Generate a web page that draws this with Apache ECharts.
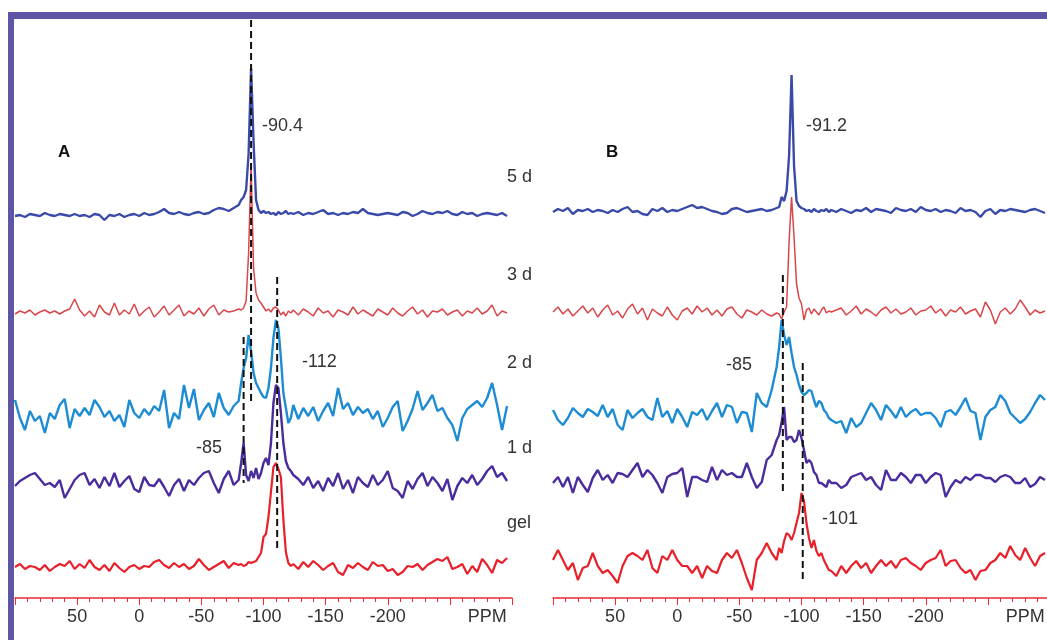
<!DOCTYPE html>
<html>
<head>
<meta charset="utf-8">
<script src="https://cdn.jsdelivr.net/npm/echarts@6/dist/echarts.min.js"></script>
<style>
  html, body { margin: 0; padding: 0; background: #fff; }
  #chart { width: 1047px; height: 640px; }
</style>
</head>
<body>
<div id="chart"></div>
<script>
// chemical shift grid (ppm), finer around the peaks
const ppm = [100,96,92,88,84,80,76,72,68,64,60,56,52,48,44,40,36,32,28,24,20,16,12,8,4,0,-4,-8,-12,-16,-20,-24,-28,-32,-36,-40,-44,-48,-52,-56,-60,-64,-68,-72,-76,-80,
  -82,-84,-86,-88,-90,-92,-94,-96,-98,-100,-102,-104,-106,-108,-110,-112,-114,-116,-118,-120,-122,
  -124,-128,-132,-136,-140,-144,-148,-152,-156,-160,-164,-168,-172,-176,-180,-184,-188,-192,-196,-200,-204,-208,-212,-216,-220,-224,-228,-232,-236,-240,-244,-248,-252,-256,-260,-264,-268,-272,-276,-280,-284,-288,-292,-296];

// panel A intensities (relative to each trace's baseline)
const a5d = [-2,-1,-3,0,-1,-2,1,-1,-2,0, -1,-2,0,-2,-1,-3,0,-1,-6,-1, -2,0,-3,-1,0,-2,1,-1,0,2, 5,1,0,2,0,-1,1,2,0,1, 4,6,5,3,6,9,
  14,17,24,60,146,72,14,4,1,3, 1,2,0,1,-1,2,0,1,3,0,1,
  0,2,-1,1,0,2,4,0,1,-1, 1,0,2,1,5,1,0,-1,0,1, 0,-1,2,1,-2,0,3,1,0,2, 1,3,0,-1,2,0,1,-2,0,1, 0,-1,1,-2];
const a3d = [-1,2,0,3,-2,1,3,0,2,-1, 2,4,14,3,-3,2,-4,8,1,-2, 10,-2,3,-1,9,-3,2,6,-4,1, 7,-2,3,8,-3,2,-1,5,-3,4, 8,-2,3,1,2,4,
  3,5,12,60,148,45,20,13,10,6, 2,4,1,5,6,3,-2,1,-3,2,0,
  3,-2,4,1,-3,5,0,2,-4,3, 1,-2,6,-1,3,0,-3,4,1,-2, 5,0,-3,2,6,-1,3,-4,2,1, 4,-2,1,3,-3,2,0,5,-1,2, 8,-3,2,0];
const a2d = [13,-5,-17,2,-8,-3,-20,0,-6,8, 14,-15,4,-3,5,-2,13,6,-4,2, -8,-2,-14,13,0,-5,4,-2,7,2, 23,-15,0,-6,28,5,24,-7,3,10, -4,20,5,-2,7,12,
  30,45,55,78,62,40,30,25,20,16, 15,25,45,75,93,85,55,20,5,-10,-5,
  8,-6,5,-3,6,-8,2,10,-3,25, 4,10,-2,6,0,4,-6,2,-14,-5, 6,12,-18,-8,4,22,3,10,18,2, 5,-5,-12,-28,-5,4,8,12,6,15, 30,8,-17,7];
const a1d = [-3,2,5,8,10,4,-2,0,-4,3, -15,-6,3,8,10,-2,4,-5,6,-3, 10,-4,2,7,-6,-9,6,-2,-3,4, -4,-13,-2,4,-8,3,-2,5,10,12, 0,-10,4,12,-2,3,
  20,40,8,2,12,5,15,4,10,20, 25,18,40,80,98,95,70,40,22,15,12,
  8,4,-2,6,-5,2,-8,5,-3,10, -6,3,-10,6,0,-4,8,-2,3,12, -5,-8,-15,2,-6,4,10,-3,6,0, -8,4,-17,-3,5,0,8,-2,4,12, 17,6,10,2];
const aGel = [0,3,-2,1,0,-3,2,-4,0,3, 1,6,-2,3,-1,7,0,-3,2,-4, 4,-1,-5,0,2,-2,1,0,5,7, 2,-1,4,0,3,-2,1,8,2,-3, 0,3,6,-1,4,2,
  3,1,2,5,4,5,6,10,14,30, 33,50,75,100,104,98,90,47,15,4,1,
  3,-2,5,0,6,2,-3,1,4,-5, -8,2,-1,4,0,-3,5,1,2,-4, -2,-8,-5,1,0,3,-3,2,5,8, 6,10,-2,0,3,-7,1,-5,8,2, -6,7,4,9];

// panel B intensities
const b5d = [-1,2,0,3,-3,1,0,2,-1,1, 0,-2,1,-1,2,4,-1,0,-3,-4, 2,0,3,-1,1,0,2,4,6,3, 4,2,0,-1,-3,-2,2,3,1,-1, 0,1,2,0,1,3,
  4,14,10,20,55,136,45,10,5,3, 2,0,1,-1,2,0,-1,1,0,2,-1,
  1,-1,2,0,-2,1,0,3,-1,2, 1,0,-2,3,1,0,2,-1,4,1, 0,2,-1,1,0,-2,3,0,1,-1, -6,0,2,-3,1,0,2,1,0,-1, 1,2,0,-2];
const b3d = [0,5,-2,3,-4,1,6,-1,4,-5, 2,7,-3,1,-6,3,8,-2,4,-8, 3,-1,-4,5,-3,-8,1,4,-2,6, 0,4,-3,2,-4,3,5,-2,-6,2, 0,-3,2,-2,-4,-1,
  -2,-7,0,5,70,115,75,28,14,8, -8,2,4,-2,3,0,-3,2,5,-1,1,
  0,2,4,-3,1,6,-2,3,0,-4, 2,5,-1,3,-2,0,4,-3,1,2, 6,-1,3,-4,2,0,5,-2,1,3, -5,10,2,-12,0,4,-2,3,12,5, -3,2,-1,1];
const b2d = [5,-5,-10,-3,7,2,-2,6,3,-1, 10,-2,6,-10,-15,5,-3,2,6,-2, -5,17,-2,4,-8,6,-2,-12,3,0, 6,-5,4,12,-2,10,8,-8,3,2, -17,22,12,8,25,48,
  68,95,80,70,78,62,48,40,30,23, 20,22,25,24,15,8,14,12,5,2,-3,
  -5,-8,-6,-18,-3,-12,-8,2,12,5, -5,10,4,-3,8,-2,3,6,0,2, 2,-3,-12,3,5,0,8,17,4,2, -25,-2,5,8,20,14,2,-3,-8,-4, 3,12,20,15];
const b1d = [-3,3,-7,3,-13,3,-5,-12,2,10, 0,5,-3,7,6,3,10,17,3,10, 5,-3,-13,3,6,7,12,-17,3,3, 0,-2,13,0,10,5,7,3,3,17, 3,-8,-2,20,25,40,
  45,58,73,40,43,43,38,40,50,42, 30,17,20,17,8,5,-3,-3,-5,-7,0,
  -3,-3,-8,-5,3,5,7,0,3,-5, -10,10,0,0,7,3,-3,5,5,-3, 3,7,5,-17,-7,0,-3,3,0,5, 5,2,2,-2,3,5,3,-3,-3,2, -7,-4,3,0];
const bGel = [3,13,3,-7,0,-17,-5,-3,10,-3, -10,-7,-13,-20,-3,7,10,7,3,13, -5,-10,7,3,13,3,-3,-3,-10,-3, -15,-3,-8,-10,3,10,5,13,0,-15, -27,3,10,20,10,3,
  15,10,22,30,28,23,30,40,50,70, 62,40,25,15,23,12,7,10,3,-2,-7,
  -8,-13,-3,-10,-3,2,-5,0,-10,-3, 3,-3,2,-5,3,5,0,-3,-7,0, 3,5,13,-3,2,3,-5,-10,-7,-17, -8,-7,0,3,10,5,17,8,3,15, 5,-3,7,10];

// stacking offsets of each trace (5 d, 3 d, 2 d, 1 d, gel)
const offsetsA = [384, 285, 185, 115, 31];
const offsetsB = [387, 286, 183, 118, 35];
const traceNames = ['5 d', '3 d', '2 d', '1 d', 'gel'];

// dashed marker lines: position (ppm), top and bottom (stack units)
const dashPpmA = [-90, -84, -111];
const dashTopA = [578, 261, 321];
const dashBottomA = [195, 115, 48];
const dashPpmB = [-85, -101];
const dashTopB = [323, 235];
const dashBottomB = [103, 15];

// axis tick labels
const tickValues = [50, 0, -50, -100, -150, -200];
const tickLabels = ['50', '0', '-50', '-100', '-150', '-200'];
const unitValue = -280;
const unitLabel = 'PPM';

const colors = ['#3a4aa8', '#d8464a', '#1d8cd2', '#4a2c9c', '#e8202a'];
const widths = [2.4, 1.5, 2.4, 2.4, 2.2];
const axisRed = '#ee2a30';
const font = "'Liberation Sans', Arial, sans-serif";

const chart = echarts.init(document.getElementById('chart'));

function trace(values, offset) {
  return ppm.map((p, i) => [p, offset + values[i]]);
}

function minorAxis(gridIndex) {
  return {
    type: 'value', gridIndex, position: 'bottom', inverse: true,
    min: -300, max: 100, interval: 10,
    axisLine: { onZero: false, lineStyle: { color: axisRed, width: 1.5 } },
    axisTick: { length: 4, lineStyle: { color: axisRed, width: 1 } },
    splitLine: { show: false },
    axisLabel: {
      margin: 10, color: '#333', fontSize: 18, fontFamily: font,
      showMinLabel: true, showMaxLabel: true,
      formatter: (v) => {
        const k = tickValues.indexOf(v);
        if (k >= 0) return tickLabels[k];
        return v === unitValue ? unitLabel : '';
      }
    }
  };
}

function majorAxis(gridIndex) {
  return {
    type: 'value', gridIndex, position: 'bottom', inverse: true,
    min: -300, max: 100, interval: 50,
    axisLine: { show: false, onZero: false },
    axisTick: { length: 7, lineStyle: { color: axisRed, width: 1 } },
    axisLabel: { show: false },
    splitLine: { show: false }
  };
}

function yAxis(gridIndex) {
  return { type: 'value', gridIndex, min: 0, max: 578, show: false };
}

const series = [];
const panels = [
  { x: 0, y: 0, data: [a5d, a3d, a2d, a1d, aGel], offsets: offsetsA, dash: [dashPpmA, dashTopA, dashBottomA] },
  { x: 2, y: 1, data: [b5d, b3d, b2d, b1d, bGel], offsets: offsetsB, dash: [dashPpmB, dashTopB, dashBottomB] }
];

panels.forEach((p) => {
  p.data.forEach((vals, i) => {
    series.push({
      name: traceNames[i],
      type: 'line', xAxisIndex: p.x, yAxisIndex: p.y,
      data: trace(vals, p.offsets[i]),
      showSymbol: false, silent: true,
      lineStyle: { color: colors[i], width: widths[i] }
    });
  });
  const [pos, top, bottom] = p.dash;
  pos.forEach((v, i) => {
    series.push({
      type: 'line', xAxisIndex: p.x, yAxisIndex: p.y,
      data: [[v, top[i]], [v, bottom[i]]],
      showSymbol: false, silent: true,
      lineStyle: { color: '#111', width: 2, type: [7, 4] }
    });
  });
});

function label(text, x, y, bold) {
  return {
    type: 'text', x, y, z: 10,
    style: {
      text, fill: bold ? '#111' : '#333', align: 'left', verticalAlign: 'middle',
      font: (bold ? 'bold 17px ' : '18px ') + font
    }
  };
}

const option = {
  animation: false,
  backgroundColor: '#fff',
  grid: [
    { left: 15, width: 497, top: 20, height: 578, outerBoundsMode: 'none' },
    { left: 553, width: 497, top: 20, height: 578, outerBoundsMode: 'none' }
  ],
  xAxis: [minorAxis(0), majorAxis(0), minorAxis(1), majorAxis(1)],
  yAxis: [yAxis(0), yAxis(1)],
  series,
  graphic: [
    { type: 'rect', shape: { x: 8, y: 12, width: 6, height: 628 }, style: { fill: '#5e56a5' } },
    { type: 'rect', shape: { x: 8, y: 12, width: 1039, height: 7 }, style: { fill: '#5e56a5' } },
    label('A', 58, 152, true),
    label('B', 606, 152, true),
    label('-90.4', 262, 126),
    label('-112', 302, 362),
    label('-85', 196, 448),
    label('-91.2', 806, 126),
    label('-85', 726, 365),
    label('-101', 822, 519),
    label(traceNames[0], 507, 177),
    label(traceNames[1], 507, 275),
    label(traceNames[2], 507, 363),
    label(traceNames[3], 507, 448),
    label(traceNames[4], 507, 523)
  ]
};

chart.setOption(option);
</script>
</body>
</html>
